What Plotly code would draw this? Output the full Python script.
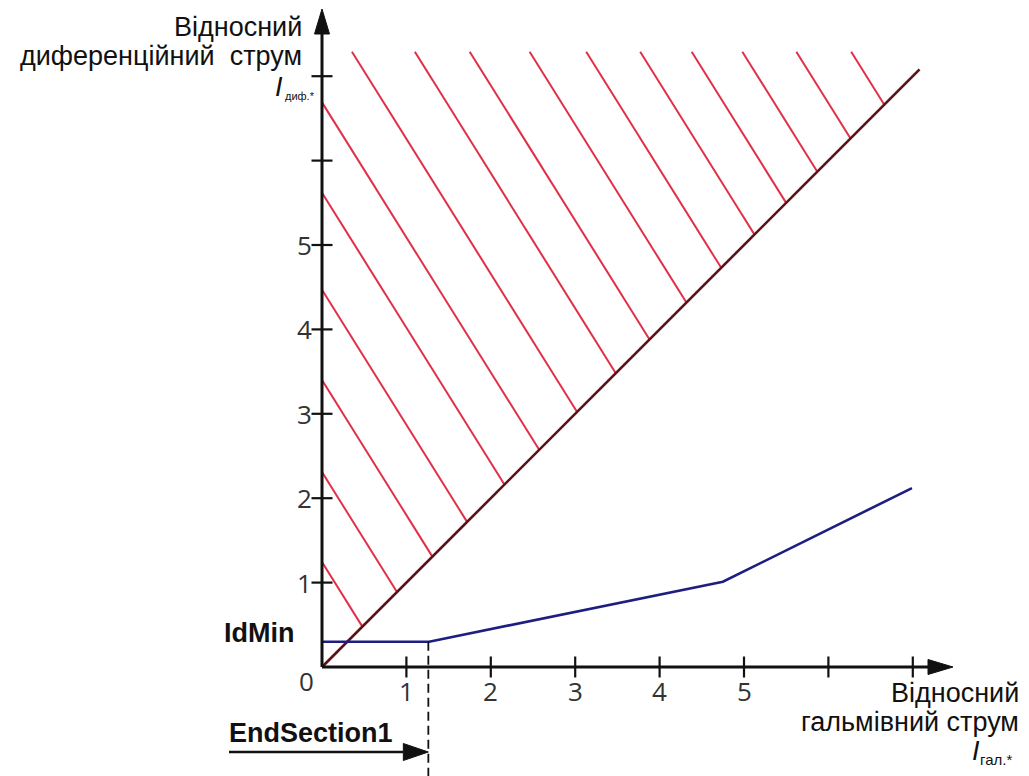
import plotly.graph_objects as go

# ---- data ----
x_ticks = [1, 2, 3, 4, 5, 6, 7]
x_tick_labels = ["1", "2", "3", "4", "5", "", ""]
y_ticks = [1, 2, 3, 4, 5, 6, 7]
y_tick_labels = ["1", "2", "3", "4", "5", "", ""]

# restraint characteristic (blue)
char_x = [0.0, 1.27, 4.75, 6.99]
char_y = [0.30, 0.30, 1.01, 2.12]

# tripping boundary (diagonal)
diag_x = [0.0, 7.08]
diag_y = [0.0, 7.08]

# hatch line start points (on the y-axis and along the top edge)
hatch_start_x = [0, 0, 0, 0, 0, 0, 0.355, 1.10, 1.75, 2.46, 3.13, 3.77, 4.38, 4.98, 5.62, 6.27]
hatch_start_y = [1.244, 2.31, 3.40, 4.47, 5.62, 6.69, 7.29, 7.29, 7.29, 7.29, 7.29, 7.29, 7.29, 7.29, 7.29, 7.29]
hatch_slope = -1.6

id_min = 0.30
end_section1 = 1.26

# ---- layout geometry ----
W, H = 1029, 776
PX = 84.4           # pixels per unit
X0PX, Y0PX = 322, 667
xr = [-X0PX / PX, (W - X0PX) / PX]
yr = [-(H - Y0PX) / PX, Y0PX / PX]

def px2x(p):
    return (p - X0PX) / PX

def px2y(p):
    return (Y0PX - p) / PX

AXIS_C = "#111111"
RED = "#e03048"
MAROON = "#5a1216"
NAVY = "#1e1e80"
TICK_C = "#333333"

fig = go.Figure()

# hatch lines
hx, hy = [], []
for x0, y0 in zip(hatch_start_x, hatch_start_y):
    xe = (y0 - hatch_slope * x0) / (1 - hatch_slope)
    xe = min(xe, diag_x[1])
    ye = y0 + hatch_slope * (xe - x0)
    hx += [x0, xe, None]
    hy += [y0, ye, None]
fig.add_trace(go.Scatter(x=hx, y=hy, mode="lines", line=dict(color=RED, width=2),
                         hoverinfo="skip", showlegend=False))

# diagonal
fig.add_trace(go.Scatter(x=diag_x, y=diag_y, mode="lines", line=dict(color=MAROON, width=2.6),
                         hoverinfo="skip", showlegend=False))

# characteristic
fig.add_trace(go.Scatter(x=char_x, y=char_y, mode="lines", line=dict(color=NAVY, width=2.6),
                         hoverinfo="skip", showlegend=False))

# dashed EndSection1 line
fig.add_trace(go.Scatter(x=[end_section1, end_section1], y=[id_min, yr[0]], mode="lines",
                         line=dict(color="#111111", width=1.8, dash="9px,5px"),
                         hoverinfo="skip", showlegend=False))

# axes lines
x_axis_end = px2x(940)
y_axis_end = px2y(20)
fig.add_trace(go.Scatter(x=[0, x_axis_end], y=[0, 0], mode="lines",
                         line=dict(color=AXIS_C, width=3), hoverinfo="skip", showlegend=False))
fig.add_trace(go.Scatter(x=[0, 0], y=[0, y_axis_end], mode="lines",
                         line=dict(color=AXIS_C, width=3), hoverinfo="skip", showlegend=False))

# arrow heads (filled polygons)
hl, hw = 25 / PX, 7.5 / PX
tip_y = px2y(9)
fig.add_trace(go.Scatter(x=[-hw, hw, 0, -hw], y=[tip_y - hl, tip_y - hl, tip_y, tip_y - hl],
                         mode="lines", fill="toself", fillcolor=AXIS_C, line=dict(color=AXIS_C, width=1),
                         hoverinfo="skip", showlegend=False))
tip_x = px2x(953)
fig.add_trace(go.Scatter(x=[tip_x - hl, tip_x - hl, tip_x, tip_x - hl], y=[-hw, hw, 0, -hw],
                         mode="lines", fill="toself", fillcolor=AXIS_C, line=dict(color=AXIS_C, width=1),
                         hoverinfo="skip", showlegend=False))

# EndSection1 arrow
es_y = px2y(752)
es_x0 = px2x(229)
ahl, ahw = 25 / PX, 8.5 / PX
fig.add_trace(go.Scatter(x=[es_x0, end_section1 - ahl], y=[es_y, es_y], mode="lines",
                         line=dict(color=AXIS_C, width=2.6), hoverinfo="skip", showlegend=False))
fig.add_trace(go.Scatter(x=[end_section1 - ahl, end_section1 - ahl, end_section1, end_section1 - ahl],
                         y=[es_y - ahw, es_y + ahw, es_y, es_y - ahw],
                         mode="lines", fill="toself", fillcolor=AXIS_C, line=dict(color=AXIS_C, width=1),
                         hoverinfo="skip", showlegend=False))

# ticks
fig.add_trace(go.Scatter(x=x_ticks, y=[0] * len(x_ticks), mode="markers",
                         marker=dict(symbol="line-ns", size=15, line=dict(color=AXIS_C, width=2.2)),
                         hoverinfo="skip", showlegend=False))
fig.add_trace(go.Scatter(x=[0] * len(y_ticks), y=y_ticks, mode="markers",
                         marker=dict(symbol="line-ew", size=15, line=dict(color=AXIS_C, width=2.2)),
                         hoverinfo="skip", showlegend=False))

ann = []
TF = dict(family="Open Sans", size=26, color=TICK_C)
for v, t in zip(x_ticks, x_tick_labels):
    if t:
        ann.append(dict(x=v, y=px2y(691), text=t, showarrow=False, font=TF,
                        xanchor="center", yanchor="middle"))
for v, t in zip(y_ticks, y_tick_labels):
    if t:
        ann.append(dict(x=px2x(314), y=v, text=t, showarrow=False, font=TF,
                        xanchor="right", yanchor="middle"))
ann.append(dict(x=px2x(306), y=px2y(681), text="0", showarrow=False, font=TF,
                xanchor="center", yanchor="middle"))

LF = dict(family="Liberation Sans, Arial", size=27, color="#111111")
SF_TOP = dict(family="Liberation Sans, Arial", size=11, color="#111111")
SF_BOT = dict(family="Liberation Sans, Arial", size=15, color="#111111")
# y-axis title
ann.append(dict(x=px2x(304), y=px2y(26.6), text="Відносний", showarrow=False, font=LF,
                xanchor="right", yanchor="middle"))
ann.append(dict(x=px2x(304), y=px2y(56), text="диференційний  струм", showarrow=False, font=LF,
                xanchor="right", yanchor="middle"))
ann.append(dict(x=px2x(285), y=px2y(87), text="<i>I</i>", showarrow=False, font=LF,
                xanchor="right", yanchor="middle"))
ann.append(dict(x=px2x(283), y=px2y(96), text="диф.*", showarrow=False, font=SF_TOP,
                xanchor="left", yanchor="middle"))
# x-axis title
ann.append(dict(x=px2x(1021), y=px2y(693), text="Відносний", showarrow=False, font=LF,
                xanchor="right", yanchor="middle"))
ann.append(dict(x=px2x(1021), y=px2y(722), text="гальмівний струм", showarrow=False, font=LF,
                xanchor="right", yanchor="middle"))
ann.append(dict(x=px2x(982), y=px2y(751), text="<i>I</i>", showarrow=False, font=LF,
                xanchor="right", yanchor="middle"))
ann.append(dict(x=px2x(978), y=px2y(759), text="гал.*", showarrow=False, font=SF_BOT,
                xanchor="left", yanchor="middle"))

BF = dict(family="Liberation Sans, Arial", size=27, color="#111111")
ann.append(dict(x=px2x(222), y=px2y(632.6), text="<b>IdMin</b>", showarrow=False, font=BF,
                xanchor="left", yanchor="middle"))
ann.append(dict(x=px2x(227), y=px2y(732.6), text="<b>EndSection1</b>", showarrow=False, font=BF,
                xanchor="left", yanchor="middle"))

fig.update_layout(
    width=W, height=H,
    margin=dict(l=0, r=0, t=0, b=0, pad=0),
    paper_bgcolor="white", plot_bgcolor="white",
    xaxis=dict(range=xr, visible=False, fixedrange=True),
    yaxis=dict(range=yr, visible=False, fixedrange=True),
    annotations=ann,
    showlegend=False,
)

fig.write_html("out.html", post_script="document.body.style.margin='0';", config={"displayModeBar": False})
